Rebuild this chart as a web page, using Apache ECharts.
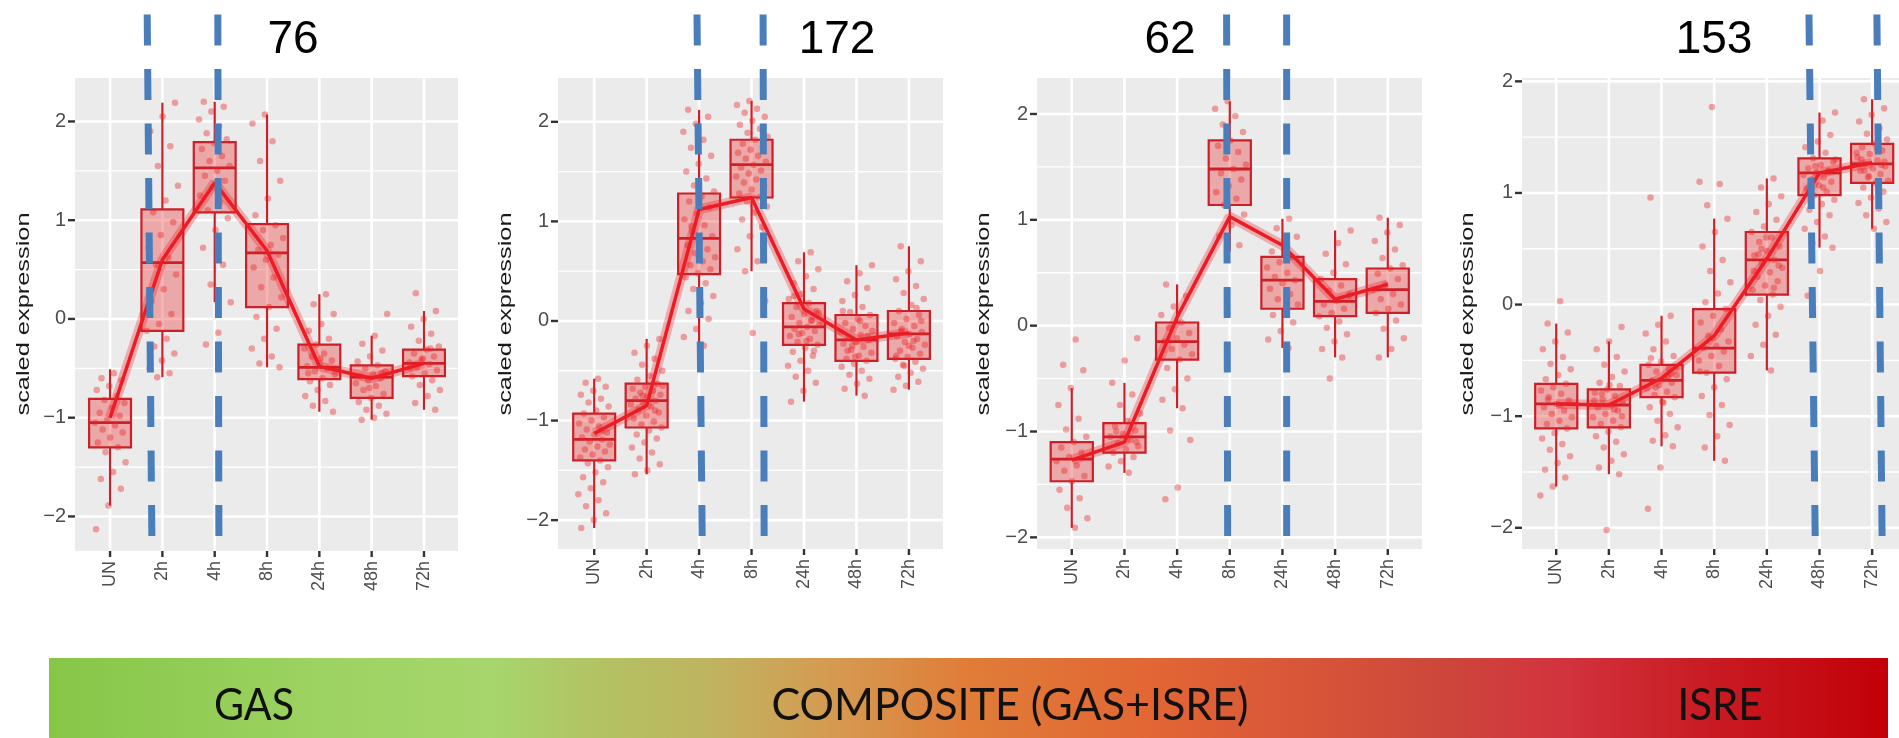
<!DOCTYPE html>
<html><head><meta charset="utf-8">
<script src="https://cdn.jsdelivr.net/npm/echarts@6/dist/echarts.min.js"></script>
<style>html,body{margin:0;padding:0;background:#fff}#chart{width:1899px;height:738px}</style>
</head><body><div id="chart"></div><script>
// ---------------- DATA ----------------
const timepoints = ['UN','2h','4h','8h','24h','48h','72h'];
const panelTitles = ['76','172','62','153'];
const yTicks = [-2,-1,0,1,2];
const yMinor = [-1.5,-0.5,0.5,1.5];
const axisTitle = 'scaled expression';
const bandLabels = ['GAS','COMPOSITE (GAS+ISRE)','ISRE'];

// box stats per timepoint: [lower whisker, Q1, median, Q3, upper whisker]
const boxP1 = [[-1.89,-1.30,-1.05,-0.81,-0.51],[-0.59,-0.12,0.57,1.11,2.19],[0.17,1.08,1.53,1.79,2.20],[-0.49,0.12,0.67,0.96,2.07],[-0.94,-0.61,-0.49,-0.26,0.25],[-1.02,-0.80,-0.59,-0.47,-0.17],[-0.92,-0.58,-0.45,-0.31,0.08]];
const boxP2 = [[-2.08,-1.40,-1.19,-0.93,-0.58],[-1.54,-1.07,-0.80,-0.63,-0.18],[-0.25,0.47,0.83,1.28,2.12],[0.50,1.24,1.57,1.82,2.21],[-0.81,-0.24,-0.06,0.18,0.69],[-0.75,-0.40,-0.19,0.06,0.56],[-0.69,-0.38,-0.13,0.10,0.75]];
const boxP3 = [[-1.91,-1.47,-1.26,-1.10,-0.59],[-1.39,-1.20,-1.05,-0.92,-0.54],[-0.78,-0.32,-0.15,0.03,0.39],[0.70,1.14,1.48,1.75,2.12],[-0.21,0.16,0.43,0.65,1.01],[-0.30,0.09,0.23,0.44,0.90],[-0.30,0.12,0.34,0.54,1.02]];
const boxP4 = [[-1.63,-1.11,-0.89,-0.71,-0.17],[-1.52,-1.10,-0.90,-0.76,-0.33],[-1.27,-0.83,-0.68,-0.54,-0.10],[-1.40,-0.61,-0.39,-0.04,0.77],[-0.59,0.09,0.40,0.65,1.13],[0.51,0.98,1.18,1.31,1.72],[0.68,1.09,1.26,1.44,1.84]];

// trend line values per timepoint
const meanP1 = [-1.00,0.60,1.38,0.69,-0.48,-0.60,-0.45];
const meanP2 = [-1.13,-0.85,1.12,1.24,0.12,-0.19,-0.12];
const meanP3 = [-1.27,-1.10,0.08,1.03,0.76,0.25,0.39];
const meanP4 = [-0.89,-0.90,-0.66,-0.28,0.41,1.18,1.27];

// individual genes (representative subset)
const ptsP1 = [
 [-0.55,-0.6,-0.62,-0.68,-0.72,-0.78,-0.82,-0.85,-0.9,-0.95,-0.98,-1.02,-1.05,-1.08,-1.12,-1.15,-1.2,-1.25,-1.3,-1.35,-1.45,-1.55,-1.62,-1.72,-1.89,-2.13],
 [2.19,2.05,1.9,1.75,1.55,1.35,1.2,1.08,0.98,0.85,0.72,0.62,0.55,0.45,0.3,0.18,0.05,-0.05,-0.12,-0.2,-0.28,-0.35,-0.42,-0.5,-0.55,-0.59],
 [2.2,2.15,2.1,2.02,1.95,1.88,1.82,1.78,1.72,1.65,1.6,1.55,1.5,1.45,1.4,1.33,1.25,1.18,1.1,1.02,0.9,0.72,0.55,0.35,0.17,-0.14,-0.26],
 [2.07,1.98,1.8,1.6,1.4,1.22,1.05,0.95,0.9,0.82,0.75,0.7,0.65,0.6,0.52,0.42,0.32,0.22,0.12,0.02,-0.1,-0.2,-0.3,-0.38,-0.45,-0.49],
 [0.25,0.15,0.05,-0.05,-0.12,-0.2,-0.26,-0.3,-0.35,-0.38,-0.42,-0.45,-0.48,-0.5,-0.53,-0.56,-0.6,-0.63,-0.67,-0.72,-0.78,-0.83,-0.88,-0.94,-0.4,-0.55],
 [0.05,-0.17,-0.25,-0.32,-0.38,-0.43,-0.47,-0.5,-0.53,-0.56,-0.58,-0.6,-0.62,-0.65,-0.68,-0.72,-0.76,-0.8,-0.84,-0.88,-0.92,-0.96,-1.0,-1.02,-0.55,-0.7],
 [0.26,0.08,0.0,-0.08,-0.15,-0.22,-0.28,-0.31,-0.35,-0.38,-0.41,-0.44,-0.46,-0.49,-0.52,-0.55,-0.58,-0.62,-0.67,-0.72,-0.78,-0.85,-0.92,-0.4,-0.5,-0.3]
];
const ptsP2 = [
 [-0.58,-0.62,-0.66,-0.7,-0.74,-0.78,-0.82,-0.86,-0.9,-0.93,-0.97,-1.0,-1.03,-1.06,-1.09,-1.12,-1.14,-1.17,-1.19,-1.21,-1.24,-1.26,-1.29,-1.31,-1.34,-1.37,-1.4,-1.43,-1.47,-1.52,-1.57,-1.62,-1.68,-1.74,-1.8,-1.86,-1.93,-2.0,-2.08,-1.1],
 [-0.18,-0.25,-0.32,-0.38,-0.44,-0.5,-0.55,-0.59,-0.63,-0.66,-0.68,-0.7,-0.72,-0.74,-0.76,-0.78,-0.8,-0.82,-0.84,-0.86,-0.89,-0.92,-0.95,-0.98,-1.01,-1.04,-1.07,-1.1,-1.14,-1.18,-1.22,-1.27,-1.32,-1.38,-1.44,-1.5,-1.54,-0.9,-0.75,-0.65],
 [2.12,2.05,1.98,1.9,1.82,1.74,1.66,1.58,1.5,1.43,1.36,1.3,1.25,1.2,1.14,1.08,1.02,0.96,0.9,0.85,0.8,0.76,0.72,0.68,0.64,0.6,0.56,0.52,0.48,0.44,0.38,0.32,0.25,0.18,0.1,0.02,-0.08,-0.16,-0.25,0.95],
 [2.21,2.17,2.13,2.09,2.05,2.01,1.97,1.93,1.89,1.85,1.82,1.78,1.75,1.72,1.69,1.66,1.63,1.6,1.57,1.54,1.51,1.48,1.45,1.42,1.39,1.36,1.32,1.28,1.24,1.2,1.15,1.09,1.02,0.94,0.85,0.72,0.6,0.5,0.2,-0.12],
 [0.69,0.6,0.52,0.45,0.38,0.32,0.27,0.22,0.18,0.14,0.1,0.07,0.04,0.01,-0.02,-0.04,-0.06,-0.08,-0.1,-0.12,-0.15,-0.18,-0.21,-0.24,-0.27,-0.31,-0.35,-0.4,-0.45,-0.5,-0.56,-0.62,-0.7,-0.81,0.0,-0.13,0.08,-0.2,0.25,-0.3],
 [0.56,0.48,0.4,0.33,0.26,0.2,0.14,0.09,0.06,0.02,-0.02,-0.05,-0.08,-0.11,-0.14,-0.17,-0.19,-0.21,-0.23,-0.26,-0.29,-0.32,-0.35,-0.38,-0.4,-0.43,-0.46,-0.5,-0.54,-0.58,-0.63,-0.68,-0.75,-0.25,-0.1,0.0,-0.3,-0.15,-0.36,0.1],
 [0.75,0.6,0.5,0.42,0.35,0.28,0.22,0.16,0.1,0.06,0.02,-0.02,-0.05,-0.08,-0.11,-0.13,-0.15,-0.18,-0.21,-0.24,-0.27,-0.3,-0.33,-0.36,-0.38,-0.41,-0.44,-0.48,-0.52,-0.56,-0.61,-0.65,-0.69,-0.2,-0.1,0.0,-0.25,-0.35,0.13,-0.45]
];
const ptsP3 = [
 [-0.13,-0.37,-0.42,-0.59,-0.75,-0.88,-0.98,-1.05,-1.1,-1.15,-1.2,-1.24,-1.28,-1.32,-1.37,-1.42,-1.47,-1.55,-1.63,-1.72,-1.82,-1.91],
 [-0.12,-0.33,-0.54,-0.65,-0.75,-0.83,-0.9,-0.95,-0.99,-1.02,-1.05,-1.08,-1.11,-1.14,-1.17,-1.2,-1.24,-1.28,-1.33,-1.39,-1.0,-1.1],
 [0.39,0.28,0.18,0.1,0.03,-0.02,-0.07,-0.12,-0.15,-0.18,-0.22,-0.27,-0.32,-0.4,-0.5,-0.6,-0.7,-0.78,-0.99,-1.08,-1.53,-1.64],
 [2.12,2.05,1.98,1.9,1.83,1.75,1.7,1.64,1.58,1.52,1.48,1.44,1.38,1.32,1.26,1.2,1.14,1.05,0.95,0.85,0.76,0.7],
 [1.01,0.92,0.84,0.76,0.7,0.65,0.6,0.55,0.5,0.46,0.43,0.4,0.35,0.3,0.25,0.2,0.16,0.1,0.03,-0.05,-0.13,-0.21],
 [0.9,0.78,0.68,0.58,0.5,0.44,0.38,0.33,0.28,0.24,0.2,0.16,0.12,0.09,0.04,-0.02,-0.08,-0.15,-0.22,-0.3,-0.5,0.3],
 [1.02,0.95,0.88,0.8,0.72,0.64,0.57,0.54,0.49,0.44,0.39,0.34,0.3,0.25,0.2,0.16,0.12,0.05,-0.03,-0.12,-0.22,-0.3]
];
const ptsP4 = [
 [0.03,-0.17,-0.25,-0.33,-0.4,-0.47,-0.53,-0.58,-0.63,-0.67,-0.71,-0.74,-0.77,-0.8,-0.83,-0.86,-0.89,-0.92,-0.95,-0.98,-1.01,-1.04,-1.07,-1.11,-1.15,-1.2,-1.25,-1.3,-1.36,-1.42,-1.48,-1.55,-1.63,-1.71,-0.9,-0.85],
 [-0.2,-0.33,-0.4,-0.47,-0.54,-0.6,-0.65,-0.7,-0.73,-0.76,-0.79,-0.82,-0.85,-0.88,-0.9,-0.92,-0.95,-0.98,-1.01,-1.04,-1.07,-1.1,-1.14,-1.18,-1.23,-1.28,-1.34,-1.4,-1.46,-1.52,-2.02,-0.86,-0.94,-0.8,-1.0,-0.72],
 [0.96,-0.1,-0.18,-0.26,-0.33,-0.4,-0.46,-0.51,-0.54,-0.57,-0.6,-0.63,-0.66,-0.68,-0.7,-0.72,-0.75,-0.78,-0.81,-0.83,-0.87,-0.92,-0.98,-1.04,-1.1,-1.17,-1.22,-1.27,-1.46,-1.83,-0.65,-0.74,-0.56,-0.88,-0.48,-0.62],
 [1.77,1.1,1.08,0.89,0.77,0.65,0.52,0.4,0.3,0.2,0.1,0.02,-0.04,-0.1,-0.16,-0.22,-0.28,-0.33,-0.37,-0.39,-0.42,-0.46,-0.5,-0.55,-0.61,-0.67,-0.74,-0.82,-0.9,-0.99,-1.08,-1.18,-1.28,-1.4,-0.3,-0.6],
 [1.13,1.05,0.97,0.9,0.83,0.76,0.7,0.65,0.6,0.56,0.52,0.48,0.44,0.4,0.37,0.33,0.29,0.25,0.21,0.17,0.13,0.09,0.04,-0.02,-0.1,-0.18,-0.27,-0.36,-0.46,-0.59,0.45,0.35,0.6,0.3,0.15,0.5],
 [1.72,1.65,1.58,1.52,1.46,1.41,1.36,1.31,1.28,1.25,1.22,1.2,1.18,1.16,1.14,1.12,1.1,1.07,1.04,1.01,0.98,0.94,0.9,0.85,0.8,0.74,0.68,0.61,0.55,0.51,0.3,0.08,1.19,1.24,1.3,1.05],
 [1.84,1.76,1.7,1.64,1.58,1.53,1.48,1.44,1.41,1.38,1.35,1.32,1.29,1.26,1.24,1.22,1.2,1.17,1.14,1.11,1.09,1.05,1.01,0.96,0.91,0.86,0.8,0.74,0.68,1.3,1.25,1.15,1.36,1.4,1.2,1.28]
];

// blue dashed marker lines, in timepoint-index units: [top, bottom]
const cutP1 = [[0.71,0.80],[2.06,2.08]];
const cutP2 = [[1.96,2.06],[3.22,3.24]];
const cutP3 = [[2.94,2.96],[4.08,4.08]];
const cutP4 = [[4.80,4.92],[6.09,6.19]];

// ---------------- LAYOUT / STYLE ----------------
const panels = [
  {box: boxP1, mean: meanP1, pts: ptsP1, cuts: cutP1},
  {box: boxP2, mean: meanP2, pts: ptsP2, cuts: cutP2},
  {box: boxP3, mean: meanP3, pts: ptsP3, cuts: cutP3},
  {box: boxP4, mean: meanP4, pts: ptsP4, cuts: cutP4}
];
const layout = [
  {left:75,   top:78, width:383, height:473, xMin:-0.67, xMax:6.65, yMin:-2.35, yMax:2.44, titleX:293,  nameX:23.5},
  {left:558,  top:78, width:385, height:471, xMin:-0.69, xMax:6.65, yMin:-2.29, yMax:2.44, titleX:837,  nameX:506},
  {left:1037, top:78, width:385, height:471, xMin:-0.66, xMax:6.65, yMin:-2.11, yMax:2.34, titleX:1170, nameX:984},
  {left:1522, top:78, width:377, height:471, xMin:-0.65, xMax:6.51, yMin:-2.19, yMax:2.03, titleX:1714, nameX:1468}
];
const FONT = "'Liberation Sans', Arial, sans-serif";
const BOX_STROKE = '#cc1f27';
const LINE_RED = '#ec1c24';
const idx = timepoints.map((t, i) => i);

function jit(i, k) {
  const f = ((k + 1) * 0.6180339887 + i * 0.2718) % 1;
  return (f - 0.5) * 0.62;
}
function fmtY(v) { return v < 0 ? '\u2212' + (-v) : String(v); }

const grids = [], xAxes = [], yAxes = [], series = [];
panels.forEach((P, p) => {
  const L = layout[p];
  grids.push({left: L.left, top: L.top, width: L.width, height: L.height, show: true,
    backgroundColor: '#EBEBEB', borderWidth: 0, containLabel: false, outerBoundsMode: 'none'});
  xAxes.push({gridIndex: p, type: 'value', min: L.xMin, max: L.xMax,
    axisLine: {show: false}, splitLine: {show: false}, axisTick: {show: false},
    axisLabel: {customValues: idx, formatter: v => timepoints[Math.round(v)], rotate: 90, margin: 10,
      fontSize: 18, color: '#4D4D4D', fontFamily: FONT}});
  yAxes.push({gridIndex: p, type: 'value', min: L.yMin, max: L.yMax,
    axisLine: {show: false}, splitLine: {show: false}, axisTick: {show: false},
    axisLabel: {customValues: yTicks, formatter: fmtY, margin: 9, fontSize: 20, color: '#4D4D4D', fontFamily: FONT}});

  // panel grid lines and tick marks (ggplot style)
  const gridData = yTicks.map(v => [0, v, 1]).concat(yMinor.map(v => [0, v, 0])).concat(idx.map(i => [i, 0, 2]));
  series.push({type: 'custom', xAxisIndex: p, yAxisIndex: p, silent: true, z: 1, animation: false, clip: false,
    encode: {x: 0, y: 1}, data: gridData,
    renderItem: (params, api) => {
      const cs = params.coordSys;
      const kind = api.value(2);
      if (kind === 2) {
        const x = api.coord([api.value(0), 0])[0];
        return {type: 'group', children: [
          {type: 'line', shape: {x1: x, y1: cs.y, x2: x, y2: cs.y + cs.height}, style: {stroke: '#fff', lineWidth: 2.6}},
          {type: 'line', shape: {x1: x, y1: cs.y + cs.height, x2: x, y2: cs.y + cs.height + 6}, style: {stroke: '#333', lineWidth: 2.4}}
        ]};
      }
      const y = api.coord([0, api.value(1)])[1];
      const ch = [{type: 'line', shape: {x1: cs.x, y1: y, x2: cs.x + cs.width, y2: y},
        style: {stroke: '#fff', lineWidth: kind === 1 ? 2.6 : 1.3}}];
      if (kind === 1) ch.push({type: 'line', shape: {x1: cs.x - 7, y1: y, x2: cs.x, y2: y}, style: {stroke: '#333', lineWidth: 2.4}});
      return {type: 'group', children: ch};
    }});

  // boxplots
  series.push({type: 'custom', xAxisIndex: p, yAxisIndex: p, silent: true, z: 2, animation: false,
    encode: {x: 0, y: [1, 2, 3, 4, 5]},
    data: P.box.map((b, i) => [i].concat(b)),
    renderItem: (params, api) => {
      const x = api.value(0);
      const pMin = api.coord([x, api.value(1)]);
      const pQ1 = api.coord([x, api.value(2)]);
      const pMed = api.coord([x, api.value(3)]);
      const pQ3 = api.coord([x, api.value(4)]);
      const pMax = api.coord([x, api.value(5)]);
      const xl = api.coord([x - 0.4, 0])[0], xr = api.coord([x + 0.4, 0])[0];
      const st = {stroke: BOX_STROKE, lineWidth: 2.2};
      return {type: 'group', children: [
        {type: 'line', shape: {x1: pMax[0], y1: pMax[1], x2: pQ3[0], y2: pQ3[1]}, style: st},
        {type: 'line', shape: {x1: pQ1[0], y1: pQ1[1], x2: pMin[0], y2: pMin[1]}, style: st},
        {type: 'rect', shape: {x: xl, y: pQ3[1], width: xr - xl, height: pQ1[1] - pQ3[1]},
          style: {fill: 'rgba(235,50,50,0.36)', stroke: BOX_STROKE, lineWidth: 2.2}},
        {type: 'line', shape: {x1: xl, y1: pMed[1], x2: xr, y2: pMed[1]}, style: {stroke: BOX_STROKE, lineWidth: 2.8}}
      ]};
    }});

  // jittered genes
  const sd = [];
  P.pts.forEach((arr, i) => arr.forEach((v, k) => sd.push([i + jit(i, k), v])));
  series.push({type: 'scatter', xAxisIndex: p, yAxisIndex: p, z: 3, silent: true, animation: false,
    symbolSize: 6.5, itemStyle: {color: 'rgba(236,35,35,0.5)'}, data: sd});

  // trend line with ribbon
  const md = P.mean.map((m, i) => [i, m]);
  series.push({type: 'line', xAxisIndex: p, yAxisIndex: p, z: 4, silent: true, animation: false,
    symbol: 'none', lineStyle: {color: 'rgba(236,28,36,0.3)', width: 10}, data: md});
  series.push({type: 'line', xAxisIndex: p, yAxisIndex: p, z: 5, silent: true, animation: false,
    symbol: 'none', lineStyle: {color: LINE_RED, width: 3.5}, data: md});
});

const chart = echarts.init(document.getElementById('chart'), null, {renderer: 'canvas'});
chart.setOption({animation: false, grid: grids, xAxis: xAxes, yAxis: yAxes, series: series});

// ---------------- GRAPHIC OVERLAYS ----------------
const ctx = document.createElement('canvas').getContext('2d');
function measure(text, font) { ctx.font = font; return ctx.measureText(text).width; }

const graphics = [];
panelTitles.forEach((t, p) => {
  graphics.push({type: 'text', x: layout[p].titleX, y: 40, z: 10,
    style: {text: t, font: "46px " + FONT, fill: '#000', align: 'center', verticalAlign: 'middle'}});
});
const nameW = measure(axisTitle, "19px " + FONT);
layout.forEach((L) => {
  graphics.push({type: 'text', x: L.nameX, y: 314, rotation: Math.PI / 2, scaleX: 203 / nameW, z: 10,
    style: {text: axisTitle, font: "19px " + FONT, fill: '#1a1a1a', align: 'center', verticalAlign: 'middle'}});
});
panels.forEach((P, p) => {
  P.cuts.forEach(c => {
    const xTop = chart.convertToPixel({xAxisIndex: p}, c[0]);
    const xBot = chart.convertToPixel({xAxisIndex: p}, c[1]);
    graphics.push({type: 'line', z: 20, silent: true,
      shape: {x1: xTop, y1: 14.5, x2: xBot, y2: 543},
      style: {stroke: '#4a7ebb', lineWidth: 7, lineDash: [31, 23.5], lineCap: 'butt'}});
  });
});
graphics.push({type: 'rect', z: 5, silent: true, shape: {x: 49, y: 658, width: 1839, height: 80},
  style: {fill: new echarts.graphic.LinearGradient(0, 0, 1, 0, [
    {offset: 0.00, color: '#86c648'},
    {offset: 0.15, color: '#9dd362'},
    {offset: 0.24, color: '#a6d66c'},
    {offset: 0.30, color: '#b3c262'},
    {offset: 0.36, color: '#bfb460'},
    {offset: 0.42, color: '#d49c52'},
    {offset: 0.50, color: '#e07c38'},
    {offset: 0.60, color: '#e26634'},
    {offset: 0.67, color: '#da5838'},
    {offset: 0.76, color: '#cd463b'},
    {offset: 0.82, color: '#d2343e'},
    {offset: 0.90, color: '#c91c24'},
    {offset: 1.00, color: '#c20008'}
  ])}});
const bandPos = [{x: 254, w: 80}, {x: 1010, w: 477}, {x: 1720, w: 85}];
const BAND_FONT = "44px Lato, 'Open Sans', sans-serif";
bandLabels.forEach((t, i) => {
  const w = measure(t, BAND_FONT);
  graphics.push({type: 'text', x: bandPos[i].x, y: 706, scaleX: bandPos[i].w / w, z: 10, silent: true,
    style: {text: t, font: BAND_FONT, fill: '#111', align: 'center', verticalAlign: 'middle'}});
});
chart.setOption({graphic: graphics});
</script></body></html>
